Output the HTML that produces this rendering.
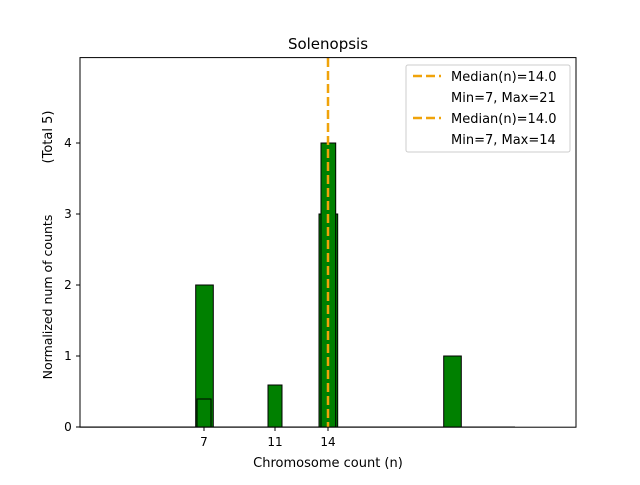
<!DOCTYPE html>
<html><head><style>body{margin:0;background:#fff}</style></head><body>
<svg width="640" height="480" xmlns="http://www.w3.org/2000/svg" font-family="DejaVu Sans, Liberation Sans, sans-serif" font-size="13">
<rect width="640" height="480" fill="#fff"/>
<g fill="#008000" stroke="#000" stroke-width="1">
<rect x="195.7" y="285" width="17.6" height="142"/>
<rect x="197" y="399" width="14" height="28"/>
<rect x="268" y="385" width="14" height="42"/>
<rect x="319" y="214" width="18.7" height="213"/>
<rect x="321" y="143" width="14.7" height="284"/>
<rect x="443.7" y="356" width="17.6" height="71"/>
</g>
<line x1="80" y1="427" x2="515" y2="427" stroke="#000" stroke-width="1"/>
<line x1="328" y1="58" x2="328" y2="427" stroke="#f0a30a" stroke-width="2.5" stroke-dasharray="9,4"/>
<rect x="80" y="57.6" width="496" height="369.6" fill="none" stroke="#000" stroke-width="1"/>
<g stroke="#000">
<line x1="80" y1="427" x2="76" y2="427"/><line x1="80" y1="356" x2="76" y2="356"/><line x1="80" y1="285" x2="76" y2="285"/><line x1="80" y1="214" x2="76" y2="214"/><line x1="80" y1="143" x2="76" y2="143"/>
<line x1="204" y1="427" x2="204" y2="431"/><line x1="275" y1="427" x2="275" y2="431"/><line x1="328" y1="427" x2="328" y2="431"/>
</g>
<g fill="#000" font-size="12" text-anchor="middle">
<text x="68" y="431">0</text><text x="68" y="360">1</text><text x="68" y="289">2</text><text x="68" y="218">3</text><text x="68" y="147">4</text>
</g>
<g fill="#000" font-size="12" text-anchor="middle">
<text x="204" y="446">7</text><text x="275" y="446">11</text><text x="328" y="446">14</text>
<text x="328" y="467" font-size="13">Chromosome count (n)</text>
<text x="328" y="49" font-size="15">Solenopsis</text>
</g>
<text transform="translate(52,297) rotate(-90)" text-anchor="middle" font-size="12.5">Normalized num of counts</text>
<text transform="translate(52,137) rotate(-90)" text-anchor="middle" font-size="13">(Total 5)</text>
<rect x="406" y="65" width="164" height="87" rx="2" fill="#fff" fill-opacity="0.8" stroke="#ccc"/>
<g stroke="#f0a30a" stroke-width="2.5" stroke-dasharray="9,4"><line x1="413" y1="76" x2="441" y2="76"/><line x1="413" y1="118" x2="441" y2="118"/></g>
<g font-size="13" fill="#000">
<text x="451" y="81">Median(n)=14.0</text>
<text x="451" y="102">Min=7, Max=21</text>
<text x="451" y="123">Median(n)=14.0</text>
<text x="451" y="144">Min=7, Max=14</text>
</g>
</svg>
</body></html>
